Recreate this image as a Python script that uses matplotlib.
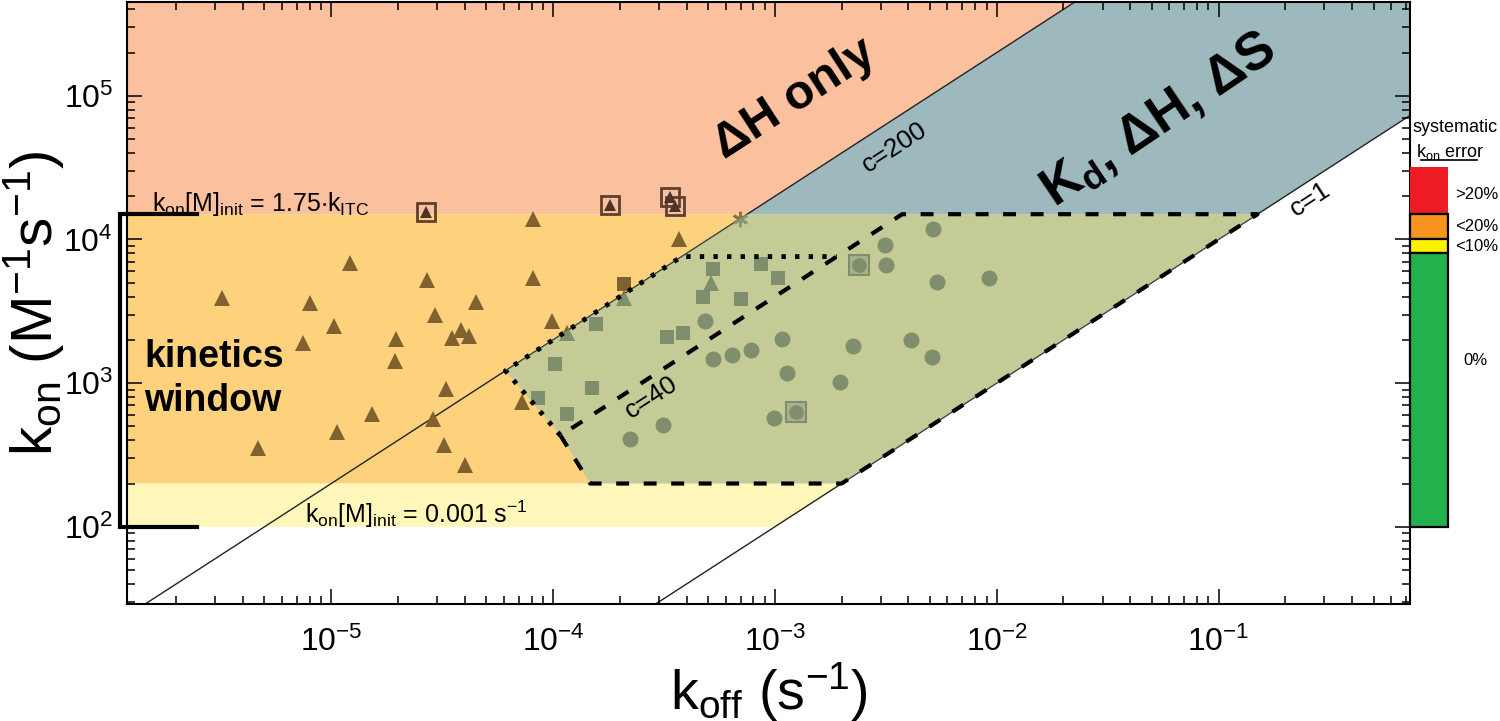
import numpy as np
import matplotlib
matplotlib.use('Agg')
import matplotlib.pyplot as plt
from matplotlib.ticker import LogLocator, FuncFormatter, NullFormatter
from matplotlib.patches import Polygon

plt.rcParams['font.family'] = ['Liberation Sans', 'DejaVu Sans']
plt.rcParams['mathtext.fontset'] = 'custom'
plt.rcParams['mathtext.rm'] = 'Liberation Sans'
plt.rcParams['mathtext.it'] = 'Liberation Sans:italic'
plt.rcParams['mathtext.bf'] = 'Liberation Sans:bold'
plt.rcParams['mathtext.sf'] = 'Liberation Sans'
plt.rcParams['mathtext.default'] = 'regular'

# ---- limits and region constants (koff in s^-1, kon in M^-1 s^-1)
KOFF_LIM = (1.2e-6, 0.73)
KON_LIM = (29, 4.5e5)
C1_RATIO = 1e5       # kon/koff along c=1
C40_RATIO = 4e6      # kon/koff along c=40
C200_RATIO = 2e7     # kon/koff along c=200
KON_ITC = 1.5e4      # kon[M]init = 1.75 kITC
KON_LOW = 200        # lower edge of kinetics window
KON_MIN = 100        # kon[M]init = 0.001 s^-1
KON_DOTTED = 7.6e3   # top of dotted window

# slanted left edge of the analysable window
slant_koff = [6.1e-5, 1.08e-4, 1.47e-4]
slant_kon = [1220, 432, 200]

# ---- data points
tri_koff = [3.21e-6, 8.04e-6, 1.03e-5, 7.43e-6, 1.21e-5, 2.69e-5, 2.93e-5, 3.84e-5,
            3.49e-5, 4.19e-5, 4.48e-5, 1.96e-5, 1.94e-5, 8.15e-5, 8.15e-5, 9.87e-5,
            3.30e-5, 1.52e-5, 1.06e-5, 4.66e-6, 2.89e-5, 3.23e-5, 4.02e-5, 7.23e-5,
            1.16e-4, 2.08e-4, 5.16e-4, 3.71e-4]
tri_kon = [3940, 3600, 2500, 1890, 6890, 5220, 2970, 2330,
           2060, 2130, 3690, 2020, 1420, 13800, 5390, 2710,
           908, 606, 455, 356, 562, 371, 271, 734,
           2250, 3940, 5000, 10000]

sq_koff = [5.28e-4, 8.67e-4, 1.03e-3, 4.72e-4, 7.03e-4, 1.56e-4, 3.87e-4, 3.27e-4,
           1.02e-4, 1.50e-4, 8.53e-5, 1.15e-4, 2.08e-4]
sq_kon = [6190, 6700, 5360, 3980, 3830, 2600, 2250, 2110,
          1360, 919, 783, 609, 4870]

circ_koff = [4.82e-4, 5.24e-4, 6.40e-4, 7.80e-4, 1.08e-3, 1.13e-3, 9.94e-4, 3.13e-4,
             2.23e-4, 2.24e-3, 1.97e-3, 4.11e-3, 5.09e-3, 3.14e-3, 3.17e-3, 5.15e-3,
             5.40e-3, 9.20e-3]
circ_kon = [2710, 1480, 1570, 1700, 2020, 1170, 571, 511,
            408, 1820, 1020, 1990, 1530, 9090, 6600, 11900,
            5050, 5420]

boxcirc_koff = [2.40e-3, 1.25e-3]
boxcirc_kon = [6600, 626]

boxtri_koff = [2.67e-5, 1.80e-4, 3.37e-4, 3.56e-4]
boxtri_kon = [15600, 17500, 19900, 17100]

star_koff = [6.94e-4]
star_kon = [13900]

# systematic kon error bar: (lower, upper, colour)
err_lo = [1.5e4, 1.0e4, 8.0e3, 100]
err_hi = [3.2e4, 1.5e4, 1.0e4, 8.0e3]
err_col = ['#ED1C24', '#F7941D', '#FFF200', '#22B14C']
err_txt = ['>20%', '<20%', '<10%', '0%']
err_txt_kon = [2.05e4, 1.24e4, 9.0e3, 1430]

BROWN = '#806230'

fig = plt.figure(figsize=(15, 7.21), dpi=100)
ax = fig.add_axes([127 / 1500, 1 - 604 / 721, 1283 / 1500, 602 / 721])
ax.set_xscale('log')
ax.set_yscale('log')
ax.set_xlim(KOFF_LIM)
ax.set_ylim(KON_LIM)

xlo, xhi = KOFF_LIM
ylo, yhi = KON_LIM
F = (slant_koff[0], slant_kon[0])
A = (slant_koff[1], slant_kon[1])
B = (slant_koff[2], slant_kon[2])

salmon = [(xlo, KON_ITC), (xlo, yhi), (yhi / C200_RATIO, yhi), (KON_ITC / C200_RATIO, KON_ITC)]
blue = [(KON_ITC / C200_RATIO, KON_ITC), (yhi / C200_RATIO, yhi), (xhi, yhi),
        (xhi, xhi * C1_RATIO), (KON_ITC / C1_RATIO, KON_ITC)]
orange = [(xlo, KON_LOW), (xlo, KON_ITC), (KON_ITC / C1_RATIO, KON_ITC), (KON_LOW / C1_RATIO, KON_LOW)]
yellow = [(xlo, KON_MIN), (xlo, KON_LOW), (KON_LOW / C1_RATIO, KON_LOW), (KON_MIN / C1_RATIO, KON_MIN)]
green = [F, A, B, (KON_LOW / C1_RATIO, KON_LOW), (KON_ITC / C1_RATIO, KON_ITC),
         (KON_ITC / C200_RATIO, KON_ITC)]

for verts, col in [(salmon, '#FBC09E'), (blue, '#9DB9BD'), (orange, '#FED17D'), (yellow, '#FFF6B9')]:
    ax.add_patch(Polygon(verts, closed=True, facecolor=col, edgecolor='none', zorder=0))

# c lines
for ratio in (C200_RATIO, C1_RATIO):
    ax.plot(KOFF_LIM, np.multiply(KOFF_LIM, ratio), color='#222222', lw=1.0, zorder=1)

# points
ax.plot(tri_koff, tri_kon, '^', color=BROWN, ms=11, mew=0, zorder=2)
ax.plot(sq_koff, sq_kon, 's', color=BROWN, ms=9.5, mew=0, zorder=2)
ax.plot(circ_koff, circ_kon, 'o', color=BROWN, ms=11.5, mew=0, zorder=2)
ax.plot(boxcirc_koff, boxcirc_kon, 's', mfc='#C9A469', mec=BROWN, mew=1.5, ms=14, zorder=2)
ax.plot(boxcirc_koff, boxcirc_kon, 'o', color=BROWN, ms=10.5, mew=0, zorder=2)
ax.plot(boxtri_koff, boxtri_kon, 's', mfc='none', mec='#5E4030', mew=2, ms=13.5, zorder=2)
ax.plot(boxtri_koff, boxtri_kon, '^', color='#4E3328', ms=9, mew=0, zorder=2)
ax.plot(star_koff, star_kon, marker=(6, 2, 0), color='#8A7048', ms=11, mew=2, ls='none', zorder=2)

# translucent window on top of the points
ax.add_patch(Polygon(green, closed=True, facecolor=(127 / 255, 197 / 255, 182 / 255),
                     alpha=0.45, edgecolor='none', zorder=3))

# dashed (c=40) and dotted (c=200) windows
dash_k = [A[0], B[0], KON_LOW / C1_RATIO, KON_ITC / C1_RATIO, KON_ITC / C40_RATIO, A[0]]
dash_v = [A[1], B[1], KON_LOW, KON_ITC, KON_ITC, A[1]]
ax.plot(dash_k, dash_v, color='black', lw=3, ls=(0, (3.1, 3.5)), zorder=4)
dot_k = [A[0], F[0], KON_DOTTED / C200_RATIO, KON_DOTTED / C40_RATIO]
dot_v = [A[1], F[1], KON_DOTTED, KON_DOTTED]
ax.plot(dot_k, dot_v, color='black', lw=3.5, ls=(0, (0.9, 1.9)), zorder=4)

# axes styling
for sp in ax.spines.values():
    sp.set_linewidth(1.5)
    sp.set_zorder(6)
ax.xaxis.set_major_locator(LogLocator(base=10, numticks=20))
ax.yaxis.set_major_locator(LogLocator(base=10, numticks=20))
ax.xaxis.set_minor_locator(LogLocator(base=10, subs=np.arange(2, 10), numticks=20))
ax.yaxis.set_minor_locator(LogLocator(base=10, subs=np.arange(2, 10), numticks=20))
fmt = FuncFormatter(lambda v, p: r'$10^{%d}$' % int(round(np.log10(v))))
ax.xaxis.set_major_formatter(fmt)
ax.yaxis.set_major_formatter(fmt)
ax.xaxis.set_minor_formatter(NullFormatter())
ax.yaxis.set_minor_formatter(NullFormatter())
ax.tick_params(which='both', direction='in', top=True, right=True, width=1.1, zorder=6)
ax.tick_params(which='major', length=11, labelsize=23)
ax.tick_params(which='minor', length=5.5)
ax.tick_params(axis='x', which='major', pad=16)
ax.tick_params(axis='y', which='major', pad=10)

ax.set_xlabel(r'k$_{off}$ (s$^{-1}$)', fontsize=40, labelpad=2)
ax.set_ylabel(r'k$_{on}$ (M$^{-1}$s$^{-1}$)', fontsize=42, va='center')
ax.yaxis.set_label_coords(-0.073, 0.5)

# left bracket of the kinetics window
bt = ax.get_yaxis_transform()
ax.plot([0.0546, -0.0055, -0.0055, 0.0546], [KON_ITC, KON_ITC, KON_MIN, KON_MIN],
        transform=bt, color='black', lw=3, clip_on=False, zorder=7, solid_joinstyle='miter')

# texts
ax.text(0.0195, 1.59e4, r'k$_{on}$[M]$_{init}$ = 1.75$\cdot$k$_{ITC}$', transform=bt,
        fontsize=18, ha='left', va='baseline', zorder=7)
ax.text(7.58e-6, 106, r'k$_{on}$[M]$_{init}$ = 0.001 s$^{-1}$',
        fontsize=18, ha='left', va='baseline', zorder=7)
ax.text(1.44e-6, 1066, 'kinetics\nwindow', fontsize=27, fontweight='bold',
        ha='left', va='center', linespacing=1.3, zorder=7)
ax.text(1.23e-3, 9.4e4, 'ΔH only', fontsize=35, fontweight='bold', rotation=33,
        ha='center', va='center', rotation_mode='anchor', zorder=7)
ax.text(0.0533, 6.8e4, r'K$_{\mathbf{d}}$, ΔH, ΔS', fontsize=38, fontweight='bold', rotation=34,
        ha='center', va='center', rotation_mode='anchor', zorder=7)
for lab, kx, ky in [('c=200', 3.48e-3, 4.36e4), ('c=40', 2.77e-4, 800), ('c=1', 0.26, 1.9e4)]:
    ax.text(kx, ky, lab, fontsize=19, rotation=33, ha='center', va='center',
            rotation_mode='anchor', zorder=7)

# systematic kon error bar beside the plot
ax_err = fig.add_axes([1410 / 1500, 1 - 604 / 721, 38 / 1500, 602 / 721], sharey=ax)
ax_err.set_xlim(0, 1)
for lo, hi, col in zip(err_lo, err_hi, err_col):
    edge = 'none' if col == err_col[0] else 'black'
    ax_err.bar(0.5, hi - lo, bottom=lo, width=1, color=col, edgecolor=edge, lw=1.6,
               clip_on=False, zorder=2)
ax_err.axis('off')
et = ax_err.get_yaxis_transform()
for txt, ky in zip(err_txt, err_txt_kon):
    xo = 1.40 if txt == '0%' else 1.18
    ax_err.text(xo, ky, txt, transform=et, fontsize=12, ha='left', va='center')
ax_err.text(1.18, 6.0e4, 'systematic', transform=et, fontsize=13, ha='center', va='center')
ax_err.text(1.05, 4.08e4, r'k$_{on}$ error', transform=et, fontsize=13, ha='center', va='center')
ax_err.plot([0.3, 1.75], [3.55e4, 3.55e4], transform=et, color='black', lw=1.2, clip_on=False)

fig.savefig('out.png', dpi=100)
